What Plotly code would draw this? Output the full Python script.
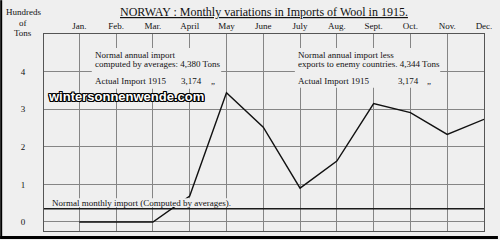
import plotly.graph_objects as go

months = [1, 2, 3, 4, 5, 6, 7, 8, 9, 10, 11, 12]
month_labels = ["Jan.", "Feb.", "Mar.", "April", "May", "June", "July", "Aug.", "Sept.", "Oct.", "Nov.", "Dec."]
imports_1915 = [0, 0, 0, 0.69, 3.44, 2.52, 0.90, 1.62, 3.15, 2.91, 2.33, 2.73]
normal_monthly = 0.35
y_ticks = [0, 1, 2, 3, 4]

BG = "#efefef"
GRID = "#858585"
FONT = "Liberation Serif"
W, H = 500, 240
L, R, T, B = 44, 14, 34, 8
PW, PH = W - L - R, H - T - B


def px(x):
    return (x - L) / PW


def py(y):
    return (H - B - y) / PH


fig = go.Figure()

# normal monthly import line (full width)
fig.add_trace(go.Scatter(x=[0.04, 12], y=[normal_monthly, normal_monthly], mode="lines",
                         line=dict(color="#1a1a1a", width=1.6), hoverinfo="skip", showlegend=False))
# actual imports
fig.add_trace(go.Scatter(x=months, y=imports_1915, mode="lines",
                         line=dict(color="#111111", width=1.4), showlegend=False))

shapes = []
# background boxes hiding grid behind the text blocks
for (x0, x1, y0, y1) in [(92, 222, 48, 89), (296, 442, 48, 88), (49, 231, 199, 208)]:
    shapes.append(dict(type="rect", xref="paper", yref="paper", x0=px(x0), x1=px(x1),
                       y0=py(y1), y1=py(y0), fillcolor=BG, line=dict(width=0), layer="above"))
# outer frame (left and bottom)
shapes.append(dict(type="line", xref="paper", yref="paper", x0=px(1), x1=px(1), y0=py(240), y1=py(0),
                   line=dict(color="#000", width=2)))
shapes.append(dict(type="line", xref="paper", yref="paper", x0=px(0), x1=px(500), y0=py(238.5), y1=py(238.5),
                   line=dict(color="#000", width=3)))

f9 = dict(family=FONT, size=9, color="#111")
ann = []


def add(text, x, y, xanchor="left", font=f9, **kw):
    ann.append(dict(text=text, x=px(x), y=py(y), xref="paper", yref="paper", xanchor=xanchor,
                    yanchor="middle", showarrow=False, font=font, align="left", **kw))


add("NORWAY : Monthly variations in Imports of Wool in 1915.", 265, 12, xanchor="center",
    font=dict(family=FONT, size=12, color="#111", lineposition="under"))
add("Hundreds", 23, 12, xanchor="center")
add("of", 23, 23, xanchor="center")
add("Tons", 23, 33, xanchor="center")

add("Normal annual import", 93, 55.5)
add("computed by averages: 4,380 Tons", 93, 64.5)
add("Actual Import 1915", 93, 81.5)
add("3,174", 180, 81.5)
add("„", 210, 81.5)

add("Normal annual import less", 297, 55.5)
add("exports to enemy countries. 4,344 Tons", 297, 64.5)
add("Actual Import 1915", 297, 81.5)
add("3,174", 398, 81.5)
add("„", 427, 81.5)

add("Normal monthly import (Computed by averages).", 50, 204)

add("wintersonnenwende.com", 126, 97, xanchor="center",
    font=dict(family="Liberation Sans", size=13, color="white", weight="bold",
              shadow="1px 1px 0 #000, -1px -1px 0 #000, 1px -1px 0 #000, -1px 1px 0 #000, 0 1px 0 #000, 0 -1px 0 #000, 1px 0 0 #000, -1px 0 0 #000"))

fig.update_layout(
    width=W, height=H, margin=dict(l=L, r=R, t=T, b=B),
    paper_bgcolor=BG, plot_bgcolor=BG,
    shapes=shapes, annotations=ann,
    xaxis=dict(range=[0.04, 12], side="top", tickmode="array", tickvals=months, ticktext=month_labels,
               showgrid=True, gridcolor=GRID, gridwidth=1, zeroline=False,
               showline=True, linecolor="#555", linewidth=1, mirror=True, ticks="",
               tickfont=f9, ticklabelstandoff=0, fixedrange=True),
    yaxis=dict(range=[-0.24, 5.0], tickmode="array", tickvals=y_ticks, ticktext=[str(v) for v in y_ticks],
               showgrid=True, gridcolor=GRID, gridwidth=1, zeroline=False,
               showline=True, linecolor="#555", linewidth=1, mirror=True, ticks="",
               tickfont=f9, ticklabelstandoff=16, fixedrange=True),
    showlegend=False,
)

fig.write_html("out.html")
